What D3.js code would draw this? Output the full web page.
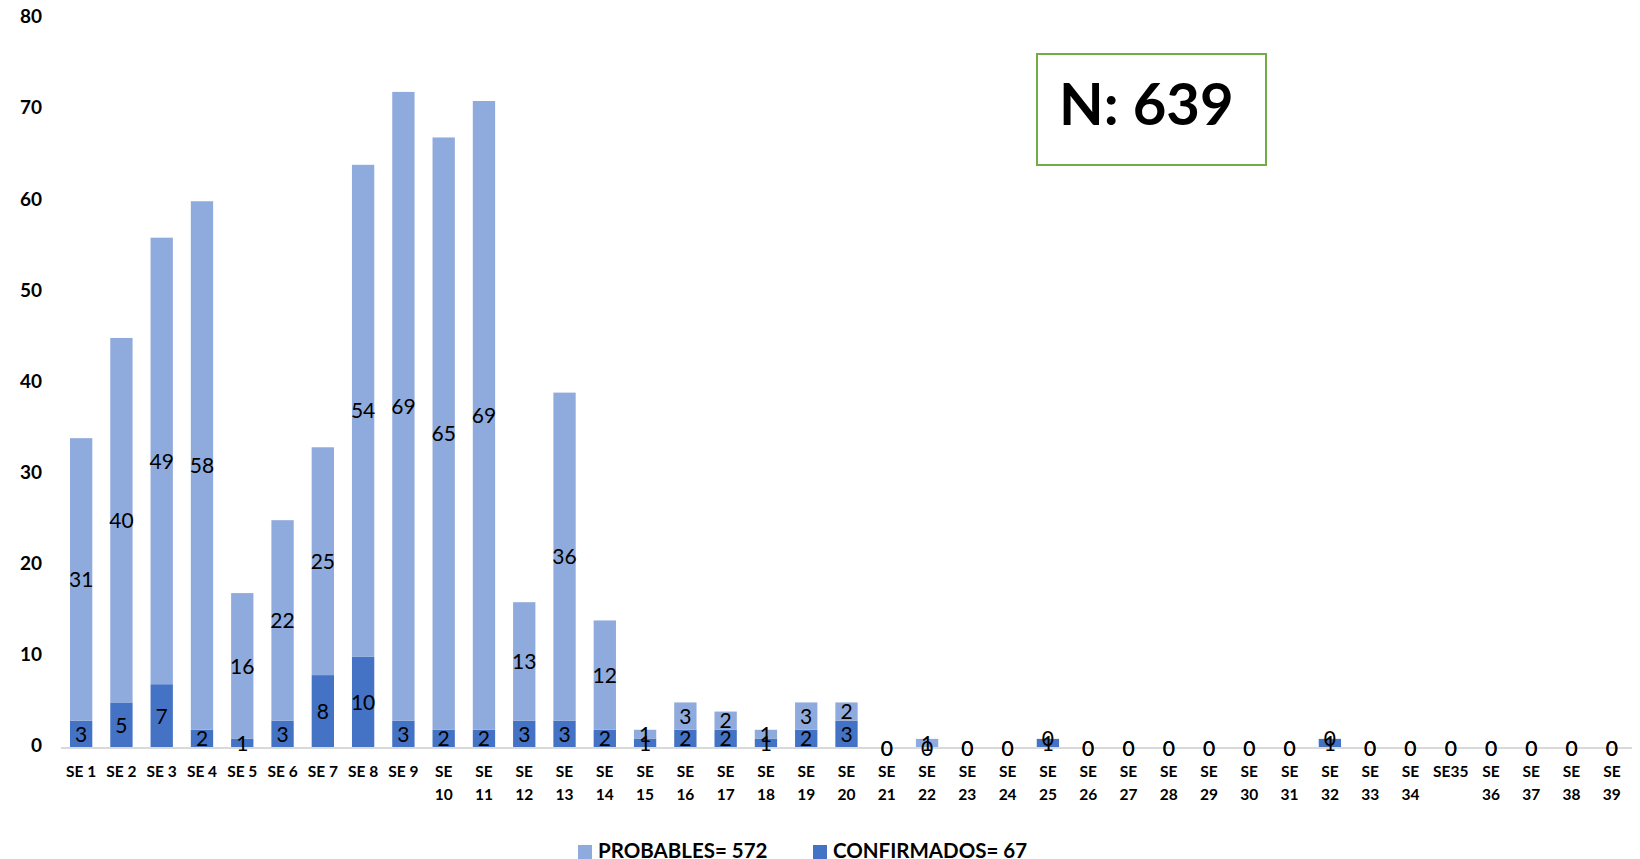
<!DOCTYPE html>
<html>
<head>
<meta charset="utf-8">
<script src="https://cdn.jsdelivr.net/npm/d3@7"></script>
<style>
  html, body { margin: 0; padding: 0; background: #fff; }
  svg { display: block; font-family: Lato, "Open Sans", sans-serif; }
</style>
</head>
<body>
<svg id="chart" width="1640" height="859"></svg>
<script>
// weeks (epidemiological weeks)
const weeks = ["SE 1","SE 2","SE 3","SE 4","SE 5","SE 6","SE 7","SE 8","SE 9","SE 10",
  "SE 11","SE 12","SE 13","SE 14","SE 15","SE 16","SE 17","SE 18","SE 19","SE 20",
  "SE 21","SE 22","SE 23","SE 24","SE 25","SE 26","SE 27","SE 28","SE 29","SE 30",
  "SE 31","SE 32","SE 33","SE 34","SE35","SE 36","SE 37","SE 38","SE 39"];
const confirmados = [3,5,7,2,1,3,8,10,3,2,2,3,3,2,1,2,2,1,2,3,0,0,0,0,1,0,0,0,0,0,0,1,0,0,0,0,0,0,0];
const probables   = [31,40,49,58,16,22,25,54,69,65,69,13,36,12,1,3,2,1,3,2,0,1,0,0,0,0,0,0,0,0,0,0,0,0,0,0,0,0,0];
const yTicks = [0,10,20,30,40,50,60,70,80];
const legendItems = [
  { key: "probables", label: "PROBABLES= 572" },
  { key: "confirmados", label: "CONFIRMADOS= 67" }
];
const totalLabel = "N: 639";

const colors = { confirmados: "#4472C4", probables: "#8FAADC" };

const svg = d3.select("#chart");
const margin = { top: 19, left: 61, right: 8, bottom: 111 };
const width = 1640, height = 859;
const x0 = margin.left, x1 = width - margin.right;
const yBase = height - margin.bottom; // 748

const rows = weeks.map((w, i) => ({ week: w, confirmados: confirmados[i], probables: probables[i] }));
const stack = d3.stack().keys(["confirmados", "probables"])(rows);

const x = d3.scaleBand().domain(weeks).range([x0, x1]).paddingInner(0.446).paddingOuter(0.223);
const y = d3.scaleLinear().domain([0, 80]).range([yBase, margin.top]);

// bars
const layers = svg.append("g").selectAll("g")
  .data(stack).enter().append("g")
  .attr("fill", d => colors[d.key]);

layers.selectAll("rect")
  .data(d => d).enter().append("rect")
  .attr("x", d => x(d.data.week))
  .attr("y", d => y(d[1]))
  .attr("width", x.bandwidth())
  .attr("height", d => y(d[0]) - y(d[1]));

// x axis line
svg.append("line")
  .attr("x1", x0).attr("x2", x1)
  .attr("y1", yBase).attr("y2", yBase)
  .attr("stroke", "#D9D9D9").attr("stroke-width", 2);

// data labels (centered in each segment)
stack.forEach(layer => {
  svg.append("g").selectAll("text")
    .data(layer).enter().append("text")
    .attr("x", d => x(d.data.week) + x.bandwidth() / 2)
    .attr("y", d => (y(d[0]) + y(d[1])) / 2)
    .attr("dy", "0.36em")
    .attr("text-anchor", "middle")
    .attr("font-size", 21)
    .attr("fill", "#000")
    .text(d => d.data[layer.key]);
});

// y axis labels
const yAxis = svg.append("g")
  .attr("transform", `translate(42,0)`)
  .call(d3.axisLeft(y).tickValues(yTicks).tickSize(0).tickPadding(0));
yAxis.select(".domain").remove();
yAxis.selectAll("text")
  .attr("font-family", "Lato, sans-serif")
  .attr("font-size", 19)
  .attr("font-weight", "bold")
  .attr("fill", "#000")
  .attr("dy", "0.2em");

// x axis labels (wrap two-digit weeks)
const xLab = svg.append("g");
weeks.forEach(w => {
  const parts = /^SE \d\d$/.test(w) ? w.split(" ") : [w];
  const t = xLab.append("text")
    .attr("x", x(w) + x.bandwidth() / 2)
    .attr("y", 777)
    .attr("text-anchor", "middle")
    .attr("font-size", 15.5)
    .attr("font-weight", "bold")
    .attr("fill", "#000");
  parts.forEach((p, j) => {
    t.append("tspan")
      .attr("x", x(w) + x.bandwidth() / 2)
      .attr("dy", j === 0 ? 0 : 23)
      .text(p);
  });
});

// N box
svg.append("rect")
  .attr("x", 1037).attr("y", 54)
  .attr("width", 229).attr("height", 111)
  .attr("fill", "#fff")
  .attr("stroke", "#70AD47").attr("stroke-width", 2);
svg.append("text")
  .attr("x", 1059).attr("y", 125)
  .attr("font-size", 58)
  .attr("font-weight", "bold")
  .attr("fill", "#000")
  .text(totalLabel);

// legend
const legX = [578, 813];
legendItems.forEach((item, i) => {
  svg.append("rect")
    .attr("x", legX[i]).attr("y", 845)
    .attr("width", 14).attr("height", 14)
    .attr("fill", colors[item.key]);
  svg.append("text")
    .attr("x", legX[i] + 20).attr("y", 858)
    .attr("font-size", 20.5)
    .attr("font-weight", "bold")
    .attr("fill", "#000")
    .text(item.label);
});
</script>
</body>
</html>
